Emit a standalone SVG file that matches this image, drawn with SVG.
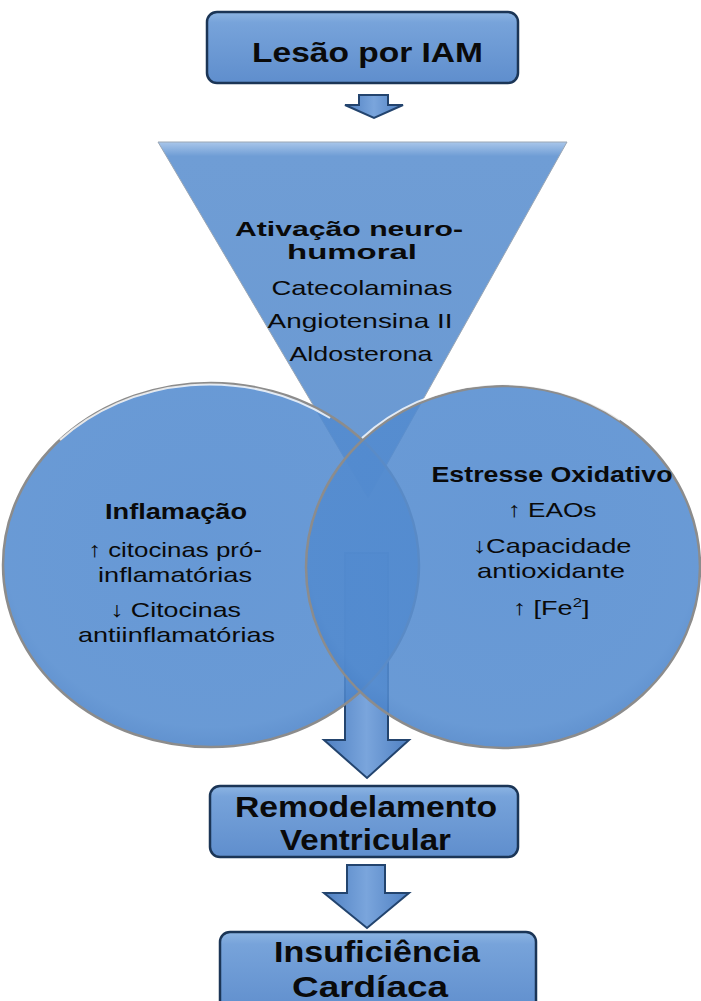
<svg xmlns="http://www.w3.org/2000/svg" width="701" height="1001" viewBox="0 0 701 1001">
<defs>
<linearGradient id="boxG" x1="0" y1="0" x2="0" y2="1">
<stop offset="0" stop-color="#8db5e3"/>
<stop offset="0.15" stop-color="#77a3da"/>
<stop offset="1" stop-color="#5f8ecd"/>
</linearGradient>
<linearGradient id="arrG" x1="0" y1="0" x2="1" y2="0">
<stop offset="0" stop-color="#4f80c2"/>
<stop offset="0.5" stop-color="#7aa5dc"/>
<stop offset="1" stop-color="#4f80c2"/>
</linearGradient>
<linearGradient id="triG" x1="0" y1="0" x2="0" y2="1">
<stop offset="0" stop-color="#a9c6ea"/>
<stop offset="0.04" stop-color="#6f9dd5"/>
<stop offset="1" stop-color="#6a99d2"/>
</linearGradient>
<radialGradient id="cirG" cx="0.5" cy="0.45" r="0.55">
<stop offset="0" stop-color="#5089cf"/>
<stop offset="0.9" stop-color="#538bcf"/>
<stop offset="1" stop-color="#4a82c8"/>
</radialGradient>
<style>
.box{fill:url(#boxG);stroke:#1b3556;stroke-width:2.5}
.arr{fill:url(#arrG);stroke:#23446e;stroke-width:2}
.cir{fill:url(#cirG);fill-opacity:0.87;stroke:#8c8c8c;stroke-width:2.5}
.hl{fill:none;stroke:#ffffff;stroke-opacity:0.8;stroke-width:2}
.tb{font-family:"Liberation Sans",Arial,sans-serif;font-weight:bold;fill:#0a0a0a;text-anchor:middle}
.tr{font-family:"Liberation Sans",Arial,sans-serif;fill:#0a0a0a;text-anchor:middle}
</style>
</defs>

<g id="funnel">
<polygon points="158,142 567,142 368,498" fill="url(#triG)" stroke="#9aa6b4" stroke-width="1"/>
<text class="tb" x="349" y="236" font-size="20" textLength="228" lengthAdjust="spacingAndGlyphs">Ativação neuro-</text>
<text class="tb" x="352" y="259" font-size="20" textLength="130" lengthAdjust="spacingAndGlyphs">humoral</text>
<text class="tr" x="362" y="295" font-size="21" textLength="181" lengthAdjust="spacingAndGlyphs">Catecolaminas</text>
<text class="tr" x="360" y="328" font-size="21" textLength="185" lengthAdjust="spacingAndGlyphs">Angiotensina II</text>
<text class="tr" x="361" y="361" font-size="21" textLength="143" lengthAdjust="spacingAndGlyphs">Aldosterona</text>
</g>

<g id="connectors">
<path class="arr" d="M359,95 H388 V105 H403 L374,118 L345,105 H359 Z"/>
<path class="arr" d="M345,553 H388 V740 H409 L367,778 L324,740 H345 Z"/>
<path class="arr" d="M347,865 H385 V893 H409 L367,928 L324,893 H347 Z"/>
</g>

<g id="inflamacao">
<ellipse class="cir" cx="211" cy="565" rx="208" ry="182"/>
<path class="hl" d="M60,440 A208,182 0 0 1 330,418"/>
<text class="tb" x="176" y="519" font-size="22" textLength="142" lengthAdjust="spacingAndGlyphs">Inflamação</text>
<text class="tr" x="175" y="557" font-size="21" textLength="174" lengthAdjust="spacingAndGlyphs">↑ citocinas pró-</text>
<text class="tr" x="175" y="582" font-size="21" textLength="154" lengthAdjust="spacingAndGlyphs">inflamatórias</text>
<text class="tr" x="175.5" y="617" font-size="21" textLength="131" lengthAdjust="spacingAndGlyphs">↓ Citocinas</text>
<text class="tr" x="176.5" y="642" font-size="21" textLength="197" lengthAdjust="spacingAndGlyphs">antiinflamatórias</text>
</g>

<g id="estresse">
<ellipse class="cir" cx="503" cy="567" rx="197" ry="181"/>
<path class="hl" d="M362,438 A197,181 0 0 1 620,420"/>
<text class="tb" x="552" y="482" font-size="22" textLength="241" lengthAdjust="spacingAndGlyphs">Estresse Oxidativo</text>
<text class="tr" x="552" y="517" font-size="21" textLength="89" lengthAdjust="spacingAndGlyphs">↑ EAOs</text>
<text class="tr" x="552" y="553" font-size="21" textLength="159" lengthAdjust="spacingAndGlyphs">↓Capacidade</text>
<text class="tr" x="551" y="578" font-size="21" textLength="148" lengthAdjust="spacingAndGlyphs">antioxidante</text>
<text class="tr" x="551" y="615" font-size="21" textLength="77" lengthAdjust="spacingAndGlyphs">↑ [Fe<tspan font-size="13" dy="-8">2</tspan><tspan dy="8">]</tspan></text>
</g>

<g id="lesao">
<rect class="box" x="207" y="12" width="311" height="71" rx="10"/>
<text class="tb" x="367.5" y="62" font-size="28" textLength="231" lengthAdjust="spacingAndGlyphs">Lesão por IAM</text>
</g>

<g id="remodelamento">
<rect class="box" x="210" y="786" width="308" height="71" rx="10"/>
<text class="tb" x="366" y="817" font-size="30" textLength="262" lengthAdjust="spacingAndGlyphs">Remodelamento</text>
<text class="tb" x="365.5" y="850" font-size="30" textLength="171" lengthAdjust="spacingAndGlyphs">Ventricular</text>
</g>

<g id="insuficiencia">
<rect class="box" x="220" y="932" width="316" height="82" rx="10"/>
<text class="tb" x="377" y="962" font-size="30" textLength="206" lengthAdjust="spacingAndGlyphs">Insuficiência</text>
<text class="tb" x="370" y="997" font-size="30" textLength="156" lengthAdjust="spacingAndGlyphs">Cardíaca</text>
</g>
</svg>
